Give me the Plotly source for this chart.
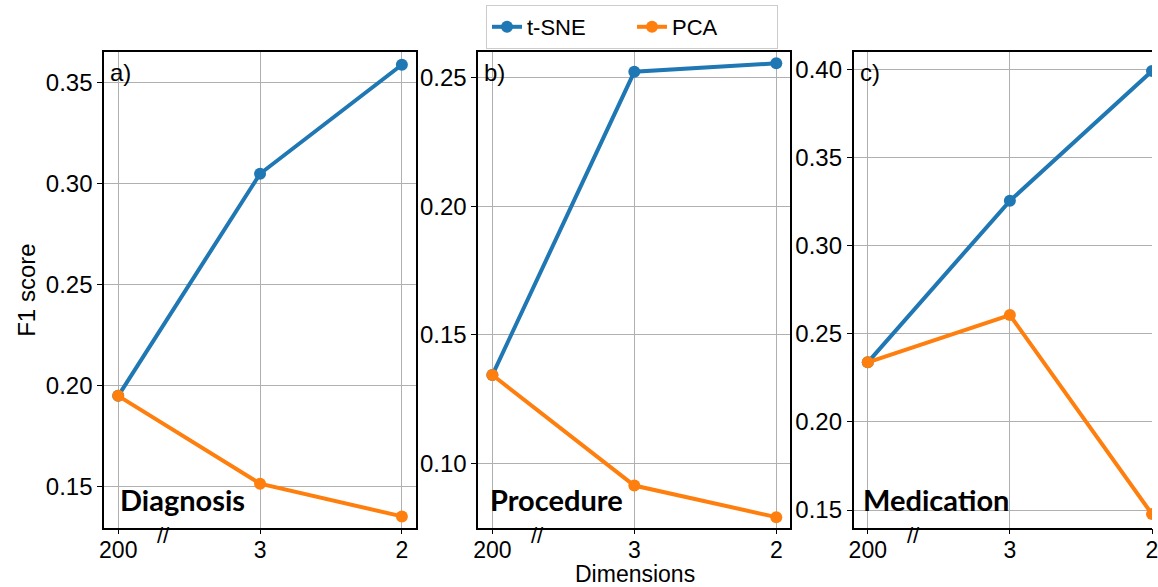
import plotly.graph_objects as go

dims = ["200", "3", "2"]
panels = ["a)", "b)", "c)"]
tasks = ["Diagnosis", "Procedure", "Medication"]
tsne_diag = [0.195, 0.305, 0.359]
pca_diag = [0.195, 0.1515, 0.1353]
tsne_proc = [0.1343, 0.2523, 0.2556]
pca_proc = [0.1343, 0.0913, 0.0790]
tsne_med = [0.2338, 0.3254, 0.399]
pca_med = [0.2338, 0.2606, 0.1477]

BLUE = "#1f77b4"
ORANGE = "#ff7f0e"
FONT = "Liberation Sans, Arial, sans-serif"
FS = 24

W, H = 1158, 587
top_px, bot_px = 52, 527.7
x_domains_px = [(100, 415), (477.7, 793), (856.7, 1158)]
y_ranges = [(0.1297, 0.3653), (0.0749, 0.2600), (0.1400, 0.4098)]
x_ranges = [(-0.1, 2.1), (-0.1, 2.1), (-0.1, 2.0)]
series = [(tsne_diag, pca_diag), (tsne_proc, pca_proc), (tsne_med, pca_med)]
label_left_px = [14, 10, 8]

fig = go.Figure()
ydom = [1 - bot_px / H, 1 - top_px / H]

for i, ((t, p), (x0, x1)) in enumerate(zip(series, x_domains_px)):
    xa = "x" if i == 0 else f"x{i+1}"
    ya = "y" if i == 0 else f"y{i+1}"
    fig.add_trace(go.Scatter(x=dims, y=t, mode="lines+markers", name="t-SNE",
                             line=dict(color=BLUE, width=4), marker=dict(size=12, color=BLUE),
                             xaxis=xa, yaxis=ya, showlegend=(i == 0)))
    fig.add_trace(go.Scatter(x=dims, y=p, mode="lines+markers", name="PCA",
                             line=dict(color=ORANGE, width=4), marker=dict(size=12, color=ORANGE),
                             xaxis=xa, yaxis=ya, showlegend=(i == 0)))
    xkey = "xaxis" if i == 0 else f"xaxis{i+1}"
    ykey = "yaxis" if i == 0 else f"yaxis{i+1}"
    fig.update_layout({
        xkey: dict(domain=[x0 / W, min(x1 / W, 1.0)], anchor=ya, type="category",
                   categoryorder="array", categoryarray=dims,
                   range=list(x_ranges[i]), showgrid=True, gridcolor="#b0b0b0", gridwidth=1,
                   showline=True, linecolor="black", linewidth=1.5, mirror=True,
                   ticks="outside", ticklen=5, tickcolor="black", ticklabelstandoff=-4,
                   tickfont=dict(family=FONT, size=23, color="black"), zeroline=False),
        ykey: dict(domain=ydom, anchor=xa, range=list(y_ranges[i]), dtick=0.05,
                   tickformat=".2f", showgrid=True, gridcolor="#b0b0b0", gridwidth=1,
                   showline=True, linecolor="black", linewidth=1.5, mirror=(i < 2),
                   ticks="outside", ticklen=5, tickcolor="black",
                   tickfont=dict(family=FONT, size=FS, color="black"), zeroline=False),
    })
    xd = "x domain" if i == 0 else f"x{i+1} domain"
    yd = "y domain" if i == 0 else f"y{i+1} domain"
    width_px = x1 - x0
    fig.add_annotation(text=panels[i], xref=xd, yref=yd, x=4 / width_px, y=0.956,
                       xanchor="left", yanchor="middle", showarrow=False,
                       font=dict(family=FONT, size=FS, color="black"))
    fig.add_annotation(text=f"<b>{tasks[i]}</b>", xref=xd, yref=yd, x=label_left_px[i] / width_px,
                       y=0.06, xanchor="left", yanchor="middle", showarrow=False,
                       font=dict(family="Lato, sans-serif", size=29, color="black"))
    fig.add_annotation(text="//", xref=xa, yref=yd, x=0.32, y=0.0, xanchor="center",
                       yanchor="middle", yshift=-8, showarrow=False,
                       font=dict(family=FONT, size=22, color="black"))

fig.add_annotation(text="F1 score", xref="paper", yref="paper", x=22 / W, y=1 - 290 / H,
                   textangle=-90, showarrow=False, xanchor="center", yanchor="middle",
                   font=dict(family=FONT, size=FS, color="black"))
fig.add_annotation(text="Dimensions", xref="paper", yref="paper", x=636 / W, y=0,
                   showarrow=False, xanchor="center", yanchor="bottom", yshift=-2,
                   font=dict(family=FONT, size=23, color="black"))

fig.update_layout(
    width=W, height=H, margin=dict(l=0, r=0, t=0, b=0),
    paper_bgcolor="white", plot_bgcolor="white",
    legend=dict(orientation="h", x=633 / W, y=1 - 5 / H, xanchor="center", yanchor="top",
                bordercolor="#cccccc", borderwidth=1, bgcolor="white",
                font=dict(family=FONT, size=22, color="black"),
                entrywidth=100, entrywidthmode="pixels"),
)

fig.write_html("out.html")
